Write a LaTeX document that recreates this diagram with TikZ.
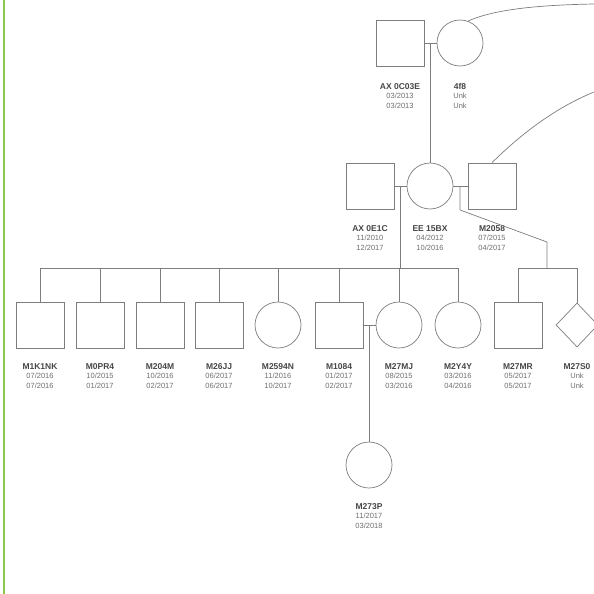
\documentclass[tikz,border=0pt]{standalone}
\usepackage{fontspec}
\setmainfont{Liberation Sans}
\usetikzlibrary{shapes.geometric}
\definecolor{kinline}{RGB}{125,125,125}
\definecolor{kinname}{RGB}{70,70,70}
\definecolor{kindate}{RGB}{110,110,110}
\definecolor{railgreen}{RGB}{140,200,75}

\begin{document}
\begin{tikzpicture}[x=1pt,y=-1pt,
    kin/.style={draw=kinline, line width=0.7pt},
    male/.style={kin, rectangle, minimum width=48pt, minimum height=46pt, inner sep=0pt},
    female/.style={kin, circle, minimum size=46pt, inner sep=0pt},
    unsexed/.style={kin, diamond, minimum width=42pt, minimum height=44pt, inner sep=0pt},
    tag/.style={anchor=north, align=center, inner sep=0pt, text=kindate,
      font=\fontsize{7.5}{9.5}\selectfont}]
  \clip (0,0) rectangle (594,594);

  % Page rail
  \draw[railgreen, line width=2pt] (4,0) -- (4,594);

  % Grandparents
  \node[male] (gs) at (400,43) {};
  \node[female] (gd) at (460,43) {};
  \node[tag] (gsT) at (400,83) {\textcolor{kinname}{\bfseries\fontsize{8.5}{10}\selectfont AX 0C03E}\\03/2013\\03/2013};
  \node[tag] (gdT) at (460,83) {\textcolor{kinname}{\bfseries\fontsize{8.5}{10}\selectfont 4f8}\\Unk\\Unk};

  % Parents
  \node[male] (ps) at (370,186) {};
  \node[female] (pd) at (430,186) {};
  \node[male] (ps2) at (492,186) {};
  \node[tag] (psT) at (370,225) {\textcolor{kinname}{\bfseries\fontsize{8.5}{10}\selectfont AX 0E1C}\\11/2010\\12/2017};
  \node[tag] (pdT) at (430,225) {\textcolor{kinname}{\bfseries\fontsize{8.5}{10}\selectfont EE 15BX}\\04/2012\\10/2016};
  \node[tag] (ps2T) at (492,225) {\textcolor{kinname}{\bfseries\fontsize{8.5}{10}\selectfont M2058}\\07/2015\\04/2017};

  % Sibship bars
  \coordinate (sibL) at (400,268);
  \coordinate (sibR) at (547,268);
  \coordinate (bend) at (460,210);
  \coordinate (kink) at (547,242);

  % Litters
  \foreach \i/\x/\kind/\name/\born/\gone in {
    1/40/male/M1K1NK/{07/2016}/{07/2016},
    2/100/male/M0PR4/{10/2015}/{01/2017},
    3/160/male/M204M/{10/2016}/{02/2017},
    4/219/male/M26JJ/{06/2017}/{06/2017},
    5/278/female/M2594N/{11/2016}/{10/2017},
    6/339/male/M1084/{01/2017}/{02/2017},
    7/399/female/M27MJ/{08/2015}/{03/2016},
    8/458/female/M2Y4Y/{03/2016}/{04/2016},
    9/518/male/M27MR/{05/2017}/{05/2017},
    10/577/unsexed/M27S0/Unk/Unk
  }{
    \node[\kind] (c\i) at (\x,325) {};
    \node[tag] (c\i T) at (\x,363) {\textcolor{kinname}{\bfseries\fontsize{8.5}{10}\selectfont\name}\\\born\\\gone};
  }

  % Grandchild
  \node[female] (gc) at (369,465) {};
  \node[tag] (gcT) at (369,503) {\textcolor{kinname}{\bfseries\fontsize{8.5}{10}\selectfont M273P}\\11/2017\\03/2018};

  % Matings
  \draw[kin] (gs.east) -- (gd.west);
  \draw[kin] (gd.west -| pd.north) -- (pd.north);
  \draw[kin] (ps.east) -- (pd.west);
  \draw[kin] (ps.east -| sibL) -- (sibL);
  \draw[kin] (pd.east) -- (ps2.west);
  \draw[kin] (pd.east -| bend) -- (bend) -- (kink) -- (sibR);
  \draw[kin] (c6.east) -- (c7.west);
  \draw[kin] (c6.east -| gc.north) -- (gc.north);

  % Drops to offspring
  \draw[kin] (c1.north |- sibL) -- (c8.north |- sibL);
  \draw[kin] (c9.north |- sibR) -- (c10.north |- sibR);
  \foreach \i in {1,...,8}
    \draw[kin] (c\i.north |- sibL) -- (c\i.north);
  \foreach \i in {9,10}
    \draw[kin] (c\i.north |- sibR) -- (c\i.north);

  % Lines running off the page
  \coordinate (offA) at (594,4);
  \coordinate (offB) at (594,92);
  \draw[kin] (gd.70) .. controls (495,9) and (540,5) .. (offA);
  \draw[kin] (ps2.north) .. controls (515,140) and (550,110) .. (offB);
\end{tikzpicture}
\end{document}
